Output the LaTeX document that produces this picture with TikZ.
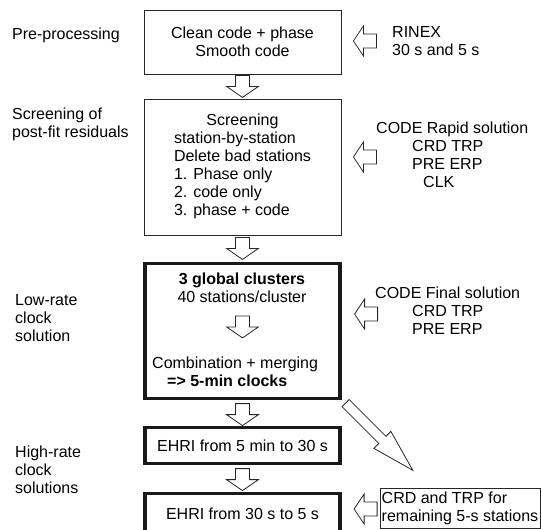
\documentclass[tikz,border=0pt]{standalone}
\usepackage{fontspec}
\setmainfont{Liberation Sans}
\usetikzlibrary{positioning, calc}

\begin{document}
\begin{tikzpicture}[x=1pt, y=-1pt, font=\fontsize{16}{18}\selectfont,
	box/.style={draw=black!85, line width=0.8pt, minimum width=197pt, align=center, inner sep=0pt},
	bigbox/.style={draw=black!90, line width=3.2pt, minimum width=195pt, align=center, inner sep=0pt},
	lbl/.style={anchor=west, align=left, inner sep=0pt},
	blockarr/.style={draw=black!85, line width=0.8pt, fill=white, line join=miter},
	downarr/.pic={\draw[blockarr] (-7,0) -- (7,0) -- (7,11) -- (16,11) -- (0,22) -- (-16,11) -- (-7,11) -- cycle;},
	leftarr/.pic={\draw[blockarr] (0,0) -- (10,-15) -- (10,-7) -- (23,-7) -- (23,7) -- (10,7) -- (10,15) -- cycle;},
	slantarr/.pic={\draw[blockarr] (-5,0) -- (5,0) -- (5,52) -- (12,52) -- (0,95) -- (-12,52) -- (-5,52) -- cycle;}]
	
	\useasboundingbox (0,0) rectangle (541,530);
	\clip (0,0) rectangle (541,530);
	
	% 1. MAIN COLUMN
	\node[box, minimum height=64pt] (clean) at (242.5,42) {Clean code + phase\\Smooth code};
	\node[box, minimum height=136pt] (screen) at (242.5,167) {\begin{tabular}{@{}l@{}}\multicolumn{1}{@{}c@{}}{Screening}\\station-by-station\\Delete bad stations\\1. Phase only\\2. code only\\3. phase + code\end{tabular}};
	\node[bigbox, minimum height=135pt] (lowrate) at (242.5,331) {};
	\node[bigbox, minimum height=36pt] (ehri5) at (242.5,445.5) {EHRI from 5 min to 30 s};
	\node[bigbox, minimum height=40pt] (ehri30) at (242.5,513.6) {EHRI from 30 s to 5 s};
	
	% Inside the low-rate box
	\node[inner sep=0pt, align=center] (clusters) at (242,288) {\textbf{3 global clusters}\\40 stations/cluster};
	\node[lbl] (merge) at (152,372) {Combination + merging\\\hspace*{15pt}\textbf{=> 5-min clocks}};
	\pic at ($(lowrate.north)+(0,54)$) {downarr};
	
	% Arrows down the column
	\pic at ($(clean.south)+(0,1)$) {downarr};
	\pic at ($(screen.south)+(0,2)$) {downarr};
	\pic at ($(lowrate.south)+(0,3.5)$) {downarr};
	\pic at ($(ehri5.south)+(0,3.5)$) {downarr};
	
	% 2. STEP LABELS (left)
	\node[lbl] (pre) at (12,35) {Pre-processing};
	\node[lbl] (scr) at (12,124) {Screening of\\post-fit residuals};
	\node[lbl] (low) at (15,318) {Low-rate\\clock\\solution};
	\node[lbl] (high) at (15,470) {High-rate\\clock\\solutions};
	
	% 3. INPUTS (right)
	\node[lbl] (rinex) at (392,41) {RINEX\\30 s and 5 s};
	\node[lbl] (rapid) at (376,155) {CODE Rapid solution\\\hspace*{36pt}CRD TRP\\\hspace*{36pt}PRE ERP\\\hspace*{47pt}CLK};
	\node[lbl] (final) at (375,311) {CODE Final solution\\\hspace*{37pt}CRD TRP\\\hspace*{37pt}PRE ERP};
	\node[box, minimum width=160pt, minimum height=40pt, align=left] (crd) at (460,508) {CRD and TRP for\\remaining 5-s stations};
	
	\pic at ($(clean.east |- rinex.west)+(12,0)$) {leftarr};
	\pic at ($(screen.east |- rapid.west)+(12,2)$) {leftarr};
	\pic at ($(lowrate.east |- final.west)+(13,3)$) {leftarr};
	\pic at ($(ehri30.east |- crd.west)+(12.5,1)$) {leftarr};
	
	% Slanted arrow to the last input
	\pic[rotate=45] at ($(lowrate.south east)+(4,3)$) {slantarr};
	
\end{tikzpicture}
\end{document}
